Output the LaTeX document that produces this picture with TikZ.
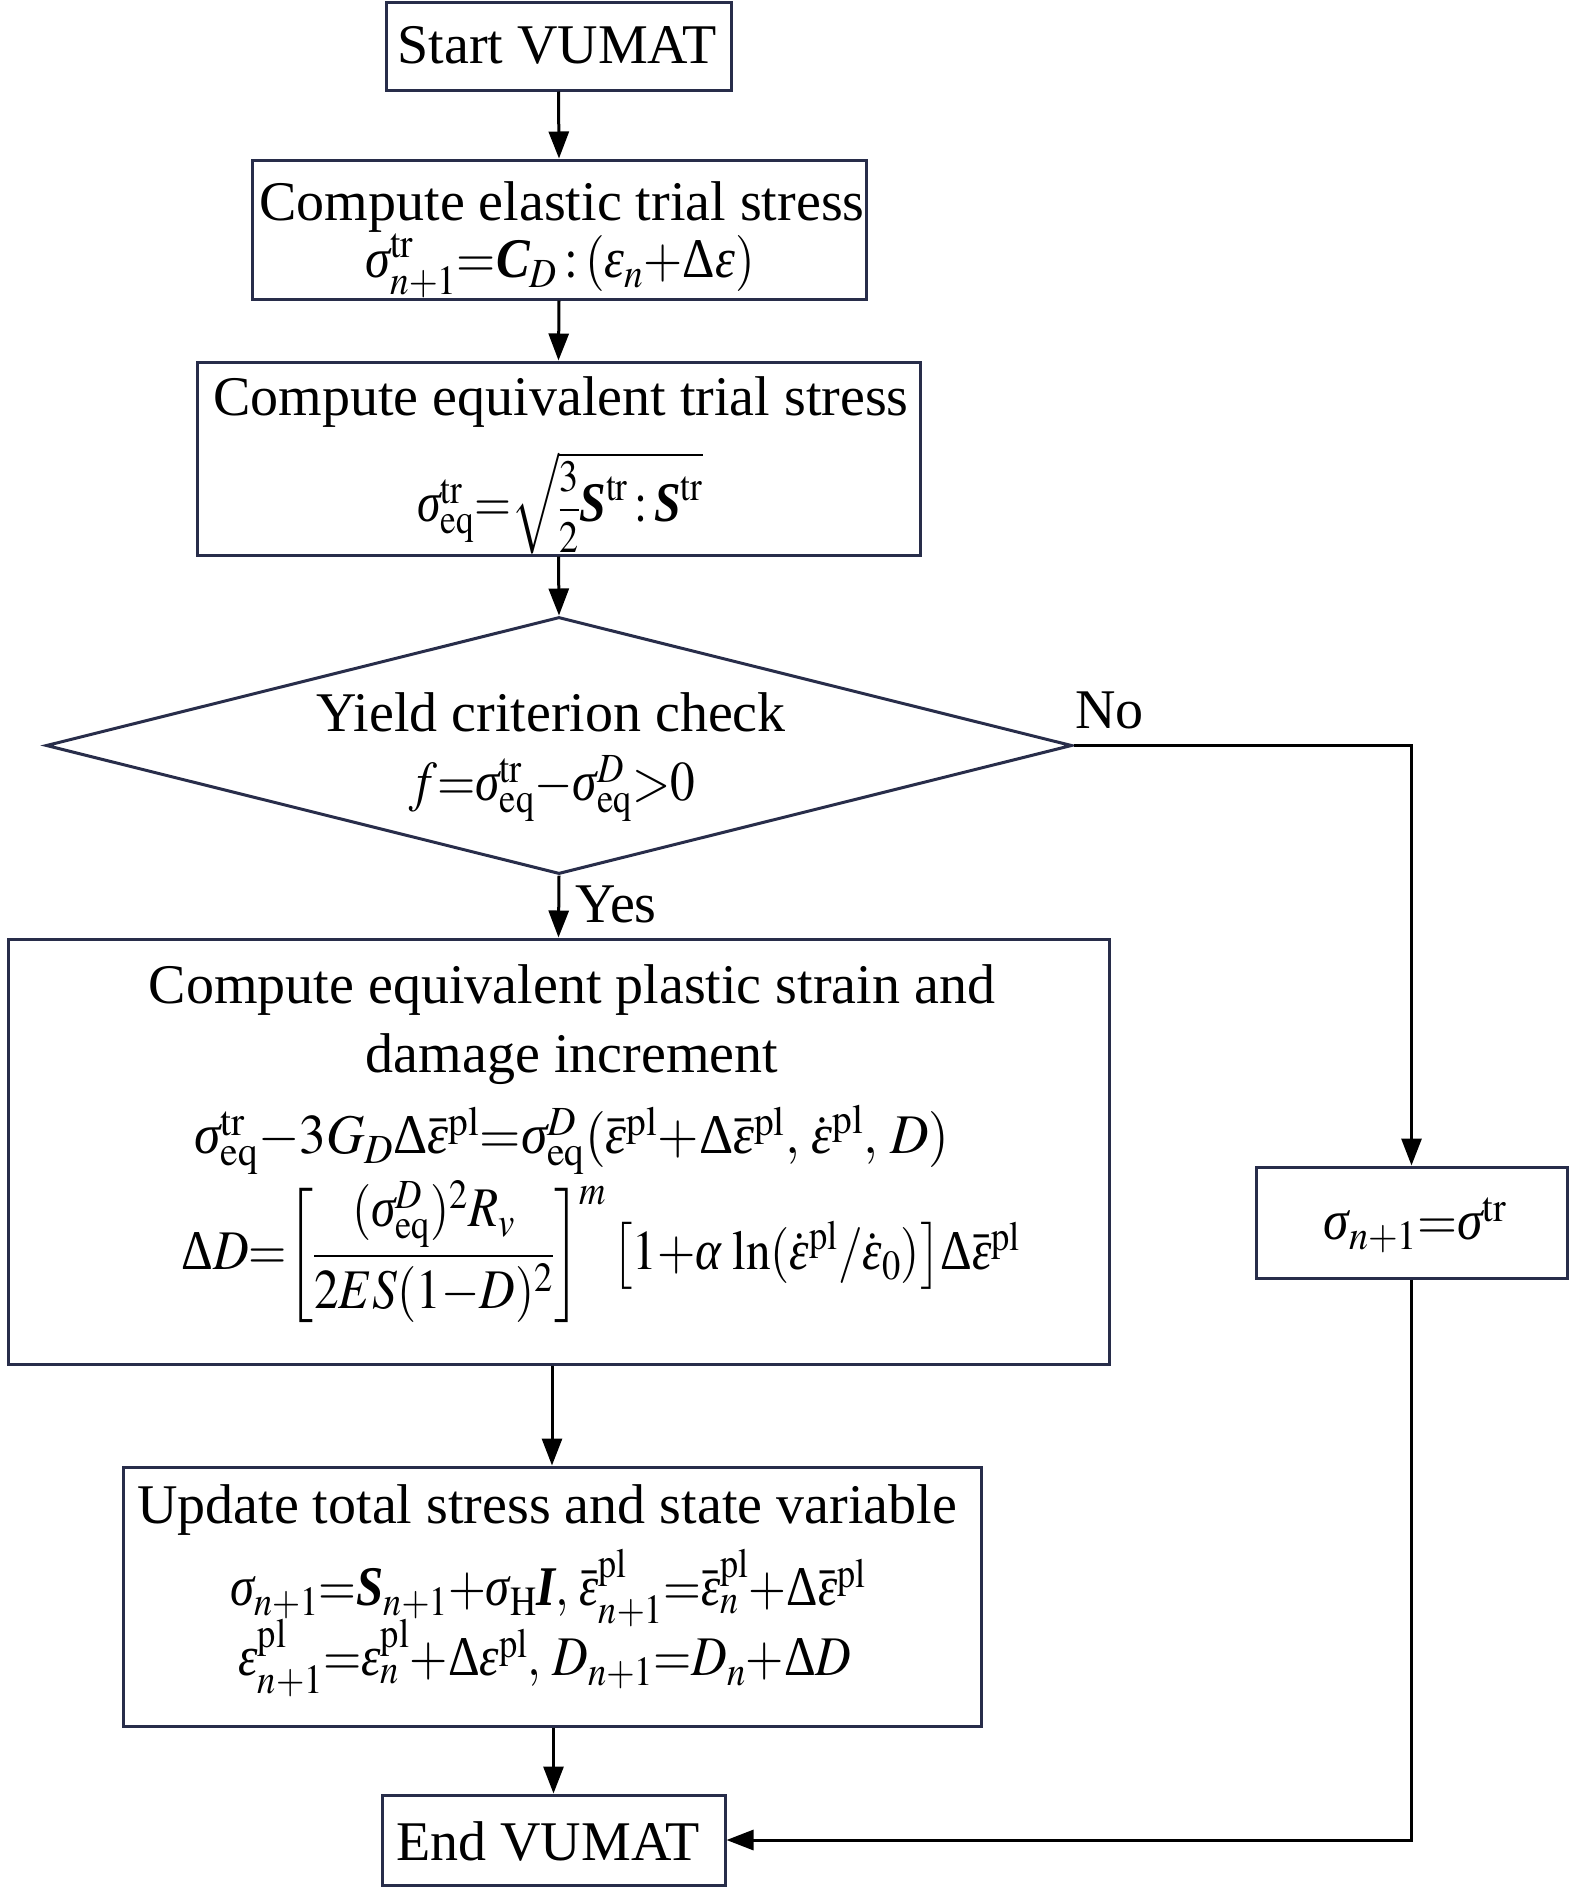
\documentclass[tikz,border=0pt]{standalone}
\usepackage{amsmath}
\usepackage{mathptmx}
\usepackage[no-math]{fontspec}
\usepackage{graphicx}
\setmainfont{Liberation Serif}
\usetikzlibrary{arrows.meta,shapes.geometric}
\definecolor{boxc}{RGB}{40,45,74}
\newcommand{\vbS}{\text{\bfseries\itshape S}}
\newcommand{\vbC}{\text{\bfseries\itshape C}}
\newcommand{\vbI}{\text{\bfseries\itshape I}}
\newcommand{\gsig}{\text{\itshape σ}}
\newcommand{\geps}{\text{\itshape ε}}
\newcommand{\galp}{\text{\itshape α}}
\newcommand{\gDel}{\text{Δ}}
\newcommand{\tr}{\mathrm{tr}}
\newcommand{\eqv}{\mathrm{eq}}
\newcommand{\plx}{\mathrm{pl}}
\newcommand{\hsq}[2]{\scalebox{#1}[1]{$#2$}}
\begin{document}
\sbox0{\fontsize{56pt}{66pt}\selectfont$x^a_b
  \fontdimen14\textfont2=18pt
  \fontdimen16\textfont2=10pt
  \fontdimen17\textfont2=12pt$}%
\begin{tikzpicture}[x=1pt,y=-1pt,
  box/.style={draw=boxc, line width=3pt, inner sep=0pt},
  lbl/.style={font=\fontsize{56pt}{66pt}\selectfont, inner sep=0pt},
  arr/.style={draw=black, line width=3pt, -{Triangle[length=27pt,width=20pt]}},
  ln/.style={draw=black, line width=3pt}]
\useasboundingbox (0,0) rectangle (1575,1888);

% boxes
\node[box, minimum width=345pt, minimum height=88pt] (start) at (558.5,46) {};
\node[box, minimum width=614pt, minimum height=139pt] (b2) at (559,229.5) {};
\node[box, minimum width=723pt, minimum height=193pt] (b3) at (558.5,458.5) {};
\node[diamond, draw=boxc, line width=3pt, inner sep=0pt, minimum width=1026pt, minimum height=257pt] (dia) at (559,745.5) {};
\node[box, minimum width=1101pt, minimum height=425pt] (b4) at (558.5,1151.5) {};
\node[box, minimum width=858pt, minimum height=259pt] (b5) at (552,1596.5) {};
\node[box, minimum width=343pt, minimum height=90pt] (end) at (553.5,1840) {};
\node[box, minimum width=311pt, minimum height=111pt] (rb) at (1411.5,1222.5) {};

% texts
\node[lbl, anchor=base] (tstart) at (557,63) {Start VUMAT};
\node[lbl, anchor=base] (t2a) at (562,220) {Compute elastic trial stress};
\node[lbl] (t2b) at (560,266) {\hsq{0.9}{\gsig^{\tr}_{n+1}{=}\vbC_D\mathbin{:}(\geps_n{+}\gDel\geps)}};
\node[lbl, anchor=base] (t3a) at (561,415) {Compute equivalent trial stress};
\node[lbl] (t3b) at (560,503) {\hsq{0.85}{\gsig^{\tr}_{\eqv}{=}\sqrt{\scalebox{0.8}{$\dfrac{3}{2}$}\vbS^{\tr}\mathbin{:}\vbS^{\tr}}}};
\node[lbl, anchor=base] (tda) at (551,731) {Yield criterion check};
\node[lbl] (tdb) at (552,789) {\hsq{0.88}{f{=}\gsig^{\tr}_{\eqv}{-}\gsig^{D}_{\eqv}{>}0}};
\node[lbl, anchor=base] (t4a) at (572,1003) {Compute equivalent plastic strain and};
\node[lbl, anchor=base] (t4b) at (572,1072) {damage increment};
\node[lbl] (t4c) at (572,1140) {\hsq{0.95}{\gsig^{\tr}_{\eqv}{-}3G_D\gDel\bar{\geps}^{\plx}{=}\gsig^{D}_{\eqv}(\bar{\geps}^{\plx}{+}\gDel\bar{\geps}^{\plx},\,\dot{\geps}^{\plx},\,D)}};
\node[lbl] (t4d) at (601,1252) {\hsq{0.88}{\gDel D{=}\biggl[\dfrac{(\gsig^{D}_{\eqv})^2R_v}{2ES(1{-}D)^2}\biggr]^m\,\bigl[1{+}\galp\,\ln(\dot{\geps}^{\plx}/\dot{\geps}_0)\bigr]\gDel\bar{\geps}^{\plx}}};
\node[lbl, anchor=base] (t5a) at (547,1523) {Update total stress and state variable};
\node[lbl] (t5b) at (548,1588) {\hsq{0.87}{\gsig_{n+1}{=}\vbS_{n+1}{+}\gsig_{\mathrm{H}}\vbI,\,\bar{\geps}^{\plx}_{n+1}{=}\bar{\geps}^{\plx}_{n}{+}\gDel\bar{\geps}^{\plx}}};
\node[lbl] (t5c) at (545,1658) {\hsq{0.88}{\geps^{\plx}_{n+1}{=}\geps^{\plx}_{n}{+}\gDel\geps^{\plx},\,D_{n+1}{=}D_n{+}\gDel D}};
\node[lbl] (trb) at (1415,1225) {\hsq{0.92}{\gsig_{n+1}{=}\gsig^{\tr}}};
\node[lbl, anchor=base] (tend) at (548,1860) {End VUMAT};

% connectors
\draw[arr] (start.south) -- (b2.north);
\draw[arr] (b2.south) -- (b3.north);
\draw[arr] (b3.south) -- (dia.north);
\draw[arr] (dia.south) -- (b4.north);
\draw[arr] (b5.north |- b4.south) -- (b5.north);
\draw[arr] (b5.south -| end.north) -- (end.north);
\draw[arr] (dia.east) -| (rb.north);
\draw[arr] (rb.south) |- (end.east);

% labels
\node[lbl, anchor=base west] (yes) at (575,922) {Yes};
\node[lbl, anchor=base west] (no) at (1075,728) {No};
\end{tikzpicture}
\end{document}
